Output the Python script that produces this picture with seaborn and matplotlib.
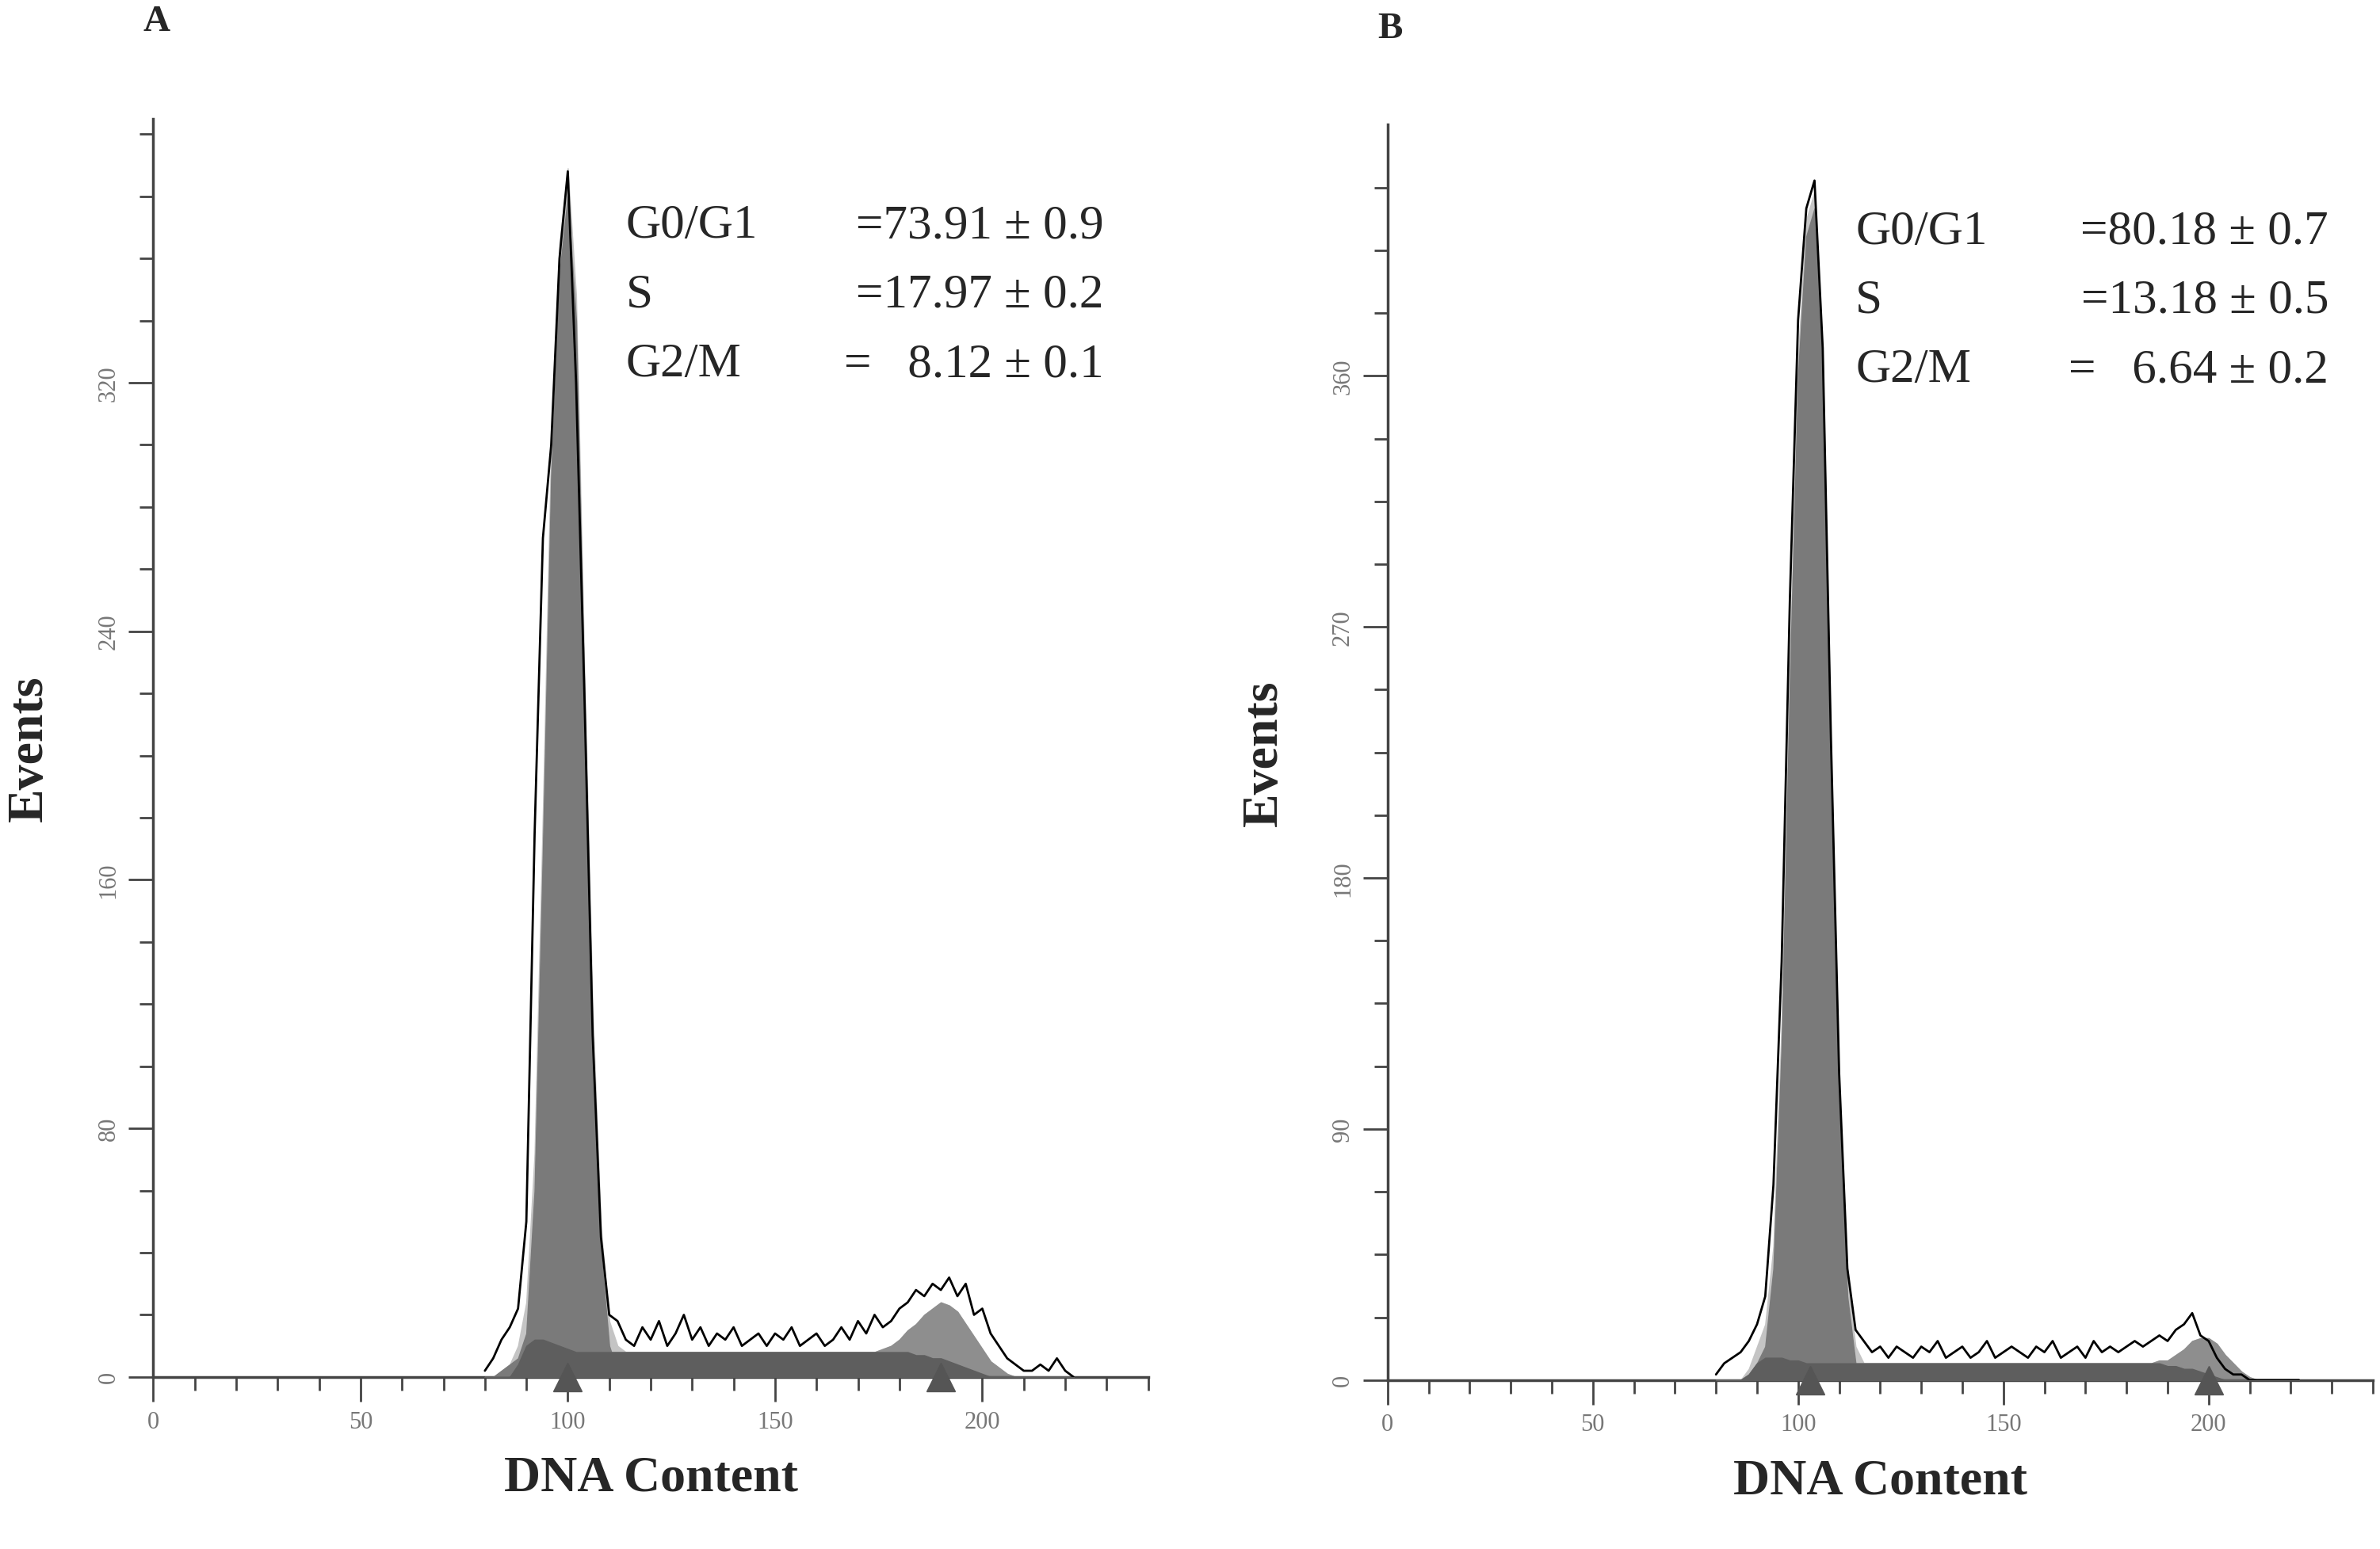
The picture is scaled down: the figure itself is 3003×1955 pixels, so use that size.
import numpy as np
import pandas as pd
import seaborn as sns
import matplotlib.pyplot as plt

sns.set_style("white")
plt.rcParams['font.family'] = ['Liberation Serif', 'DejaVu Serif']

# DNA content bins (channels), shared by both panels
bins = list(range(80, 224, 2))

# Panel A: raw histogram and fitted components
raw_a = [2, 6, 12, 16, 22, 50, 175, 270, 300, 360, 388, 320, 220, 110, 45, 20, 18, 12,
         10, 16, 12, 18, 10, 14, 20, 12, 16, 10, 14, 12, 16, 10, 12, 14, 10, 14, 12, 16,
         10, 12, 14, 10, 12, 16, 12, 18, 14, 20, 16, 18, 22, 24, 28, 26, 30, 28, 32, 26,
         30, 20, 22, 14, 10, 6, 4, 2, 2, 4, 2, 6, 2, 0]
g1_a = [0, 0, 2, 4, 6, 14, 60, 170, 290, 355, 380, 340, 220, 110, 40, 10, 2, 0] + [0] * 54
s_a = [0, 0, 0, 0, 4, 10, 12, 12, 11, 10, 9, 8, 8, 8, 8, 8, 8, 8, 8, 8, 8, 8, 8, 8, 8, 8,
       8, 8, 8, 8, 8, 8, 8, 8, 8, 8, 8, 8, 8, 8, 8, 8, 8, 8, 8, 8, 8, 8, 8, 8, 8, 8, 7,
       7, 6, 6, 5, 4, 3, 2, 1, 0, 0, 0, 0, 0, 0, 0, 0, 0, 0, 0]
g2_a = [0] * 48 + [1, 2, 4, 7, 10, 13, 16, 18, 18, 17, 14, 11, 8, 5, 3, 1, 0, 0, 0, 0, 0, 0, 0, 0]

# Panel B
raw_b = [2, 6, 8, 10, 14, 20, 30, 70, 150, 280, 380, 420, 430, 370, 230, 110, 40, 18,
         14, 10, 12, 8, 12, 10, 8, 12, 10, 14, 8, 10, 12, 8, 10, 14, 8, 10, 12, 10, 8,
         12, 10, 14, 8, 10, 12, 8, 14, 10, 12, 10, 12, 14, 12, 14, 16, 14, 18, 20, 24,
         16, 14, 8, 4, 2, 2, 0, 0, 0, 0, 0, 0, 0]
g1_b = [0, 0, 0, 0, 2, 6, 12, 40, 120, 250, 360, 410, 420, 360, 220, 100, 30, 6, 0] + [0] * 53
s_b = [0, 0, 0, 0, 2, 6, 8, 8, 8, 7, 7, 6, 6, 6, 6, 6, 6, 6, 6, 6, 6, 6, 6, 6, 6, 6, 6,
       6, 6, 6, 6, 6, 6, 6, 6, 6, 6, 6, 6, 6, 6, 6, 6, 6, 6, 6, 6, 6, 6, 6, 6, 6, 6, 6,
       6, 5, 5, 4, 4, 3, 2, 1, 0, 0, 0, 0, 0, 0, 0, 0, 0, 0]
g2_b = [0] * 54 + [1, 2, 4, 7, 10, 12, 13, 12, 9, 6, 3, 1, 0, 0, 0, 0, 0, 0]

stats_a = [("G0/G1", "=73.91 ± 0.9"), ("S", "=17.97 ± 0.2"), ("G2/M", "=   8.12 ± 0.1")]
stats_b = [("G0/G1", "=80.18 ± 0.7"), ("S", "=13.18 ± 0.5"), ("G2/M", "=   6.64 ± 0.2")]
markers_a = [100, 190]
markers_b = [103, 200]

fig = plt.figure(figsize=(30.03, 19.56), dpi=100)


def panel(rect, raw, g1, s, g2, ymax, ystep, ytop, stats, marks, letter):
    ax = fig.add_axes(rect)
    x = np.array(bins)
    g1, s, g2 = np.array(g1), np.array(s), np.array(g2)
    total = g1 + s + g2
    ax.fill_between(x, 0, total, color="#c4c4c4", zorder=1)
    ax.fill_between(x, 0, g2 + s, color="#8e8e8e", zorder=2)
    ax.fill_between(x, 0, g1, color="#7a7a7a", zorder=3)
    ax.fill_between(x, 0, s, color="#5e5e5e", zorder=4)
    df = pd.DataFrame({"dna": bins, "events": raw})
    sns.lineplot(data=df, x="dna", y="events", ax=ax, color="black", lw=2, zorder=5)
    ax.plot(marks, [0, 0], marker="^", ls="none", ms=26, color="#555555",
            clip_on=False, zorder=6, transform=ax.get_xaxis_transform())
    ax.set_xlim(0, 240)
    ax.set_ylim(0, ymax)
    ax.set_xticks(range(0, 201, 50))
    ax.set_xticks(range(0, 241, 10), minor=True)
    ax.set_yticks(np.arange(0, ytop + 1, ystep))
    ax.set_yticks(np.arange(0, ymax, ystep / 4), minor=True)
    ax.tick_params(axis="both", which="both", bottom=True, left=True)
    ax.tick_params(axis="both", which="major", length=22, width=2, color="#444444",
                   labelsize=22, labelcolor="#777777", direction="out", pad=8)
    ax.tick_params(axis="both", which="minor", length=12, width=2, color="#444444", direction="out")
    for lab in ax.get_yticklabels():
        lab.set_rotation(90)
        lab.set_va("center")
    for side in ["top", "right"]:
        ax.spines[side].set_visible(False)
    for side in ["left", "bottom"]:
        ax.spines[side].set_linewidth(2.5)
        ax.spines[side].set_color("#444444")
    ax.set_xlabel("DNA Content", fontsize=46, fontweight="bold", labelpad=20)
    ax.set_ylabel("Events", fontsize=46, fontweight="bold", labelpad=40)
    for i, (lab, val) in enumerate(stats):
        yy = 0.915 - i * 0.055
        ax.text(0.475, yy, lab, transform=ax.transAxes, fontsize=44, va="center")
        ax.text(0.955, yy, val, transform=ax.transAxes, fontsize=44, va="center", ha="right")
    ax.text(-0.01, 1.07, letter, transform=ax.transAxes, fontsize=34, fontweight="bold")
    return ax


panel([0.0644, 0.111, 0.418, 0.812], raw_a, g1_a, s_a, g2_a, 405, 80, 320, stats_a, markers_a, "A")
panel([0.583, 0.109, 0.414, 0.810], raw_b, g1_b, s_b, g2_b, 450, 90, 360, stats_b, markers_b, "B")

fig.savefig("out.png", dpi=100)
